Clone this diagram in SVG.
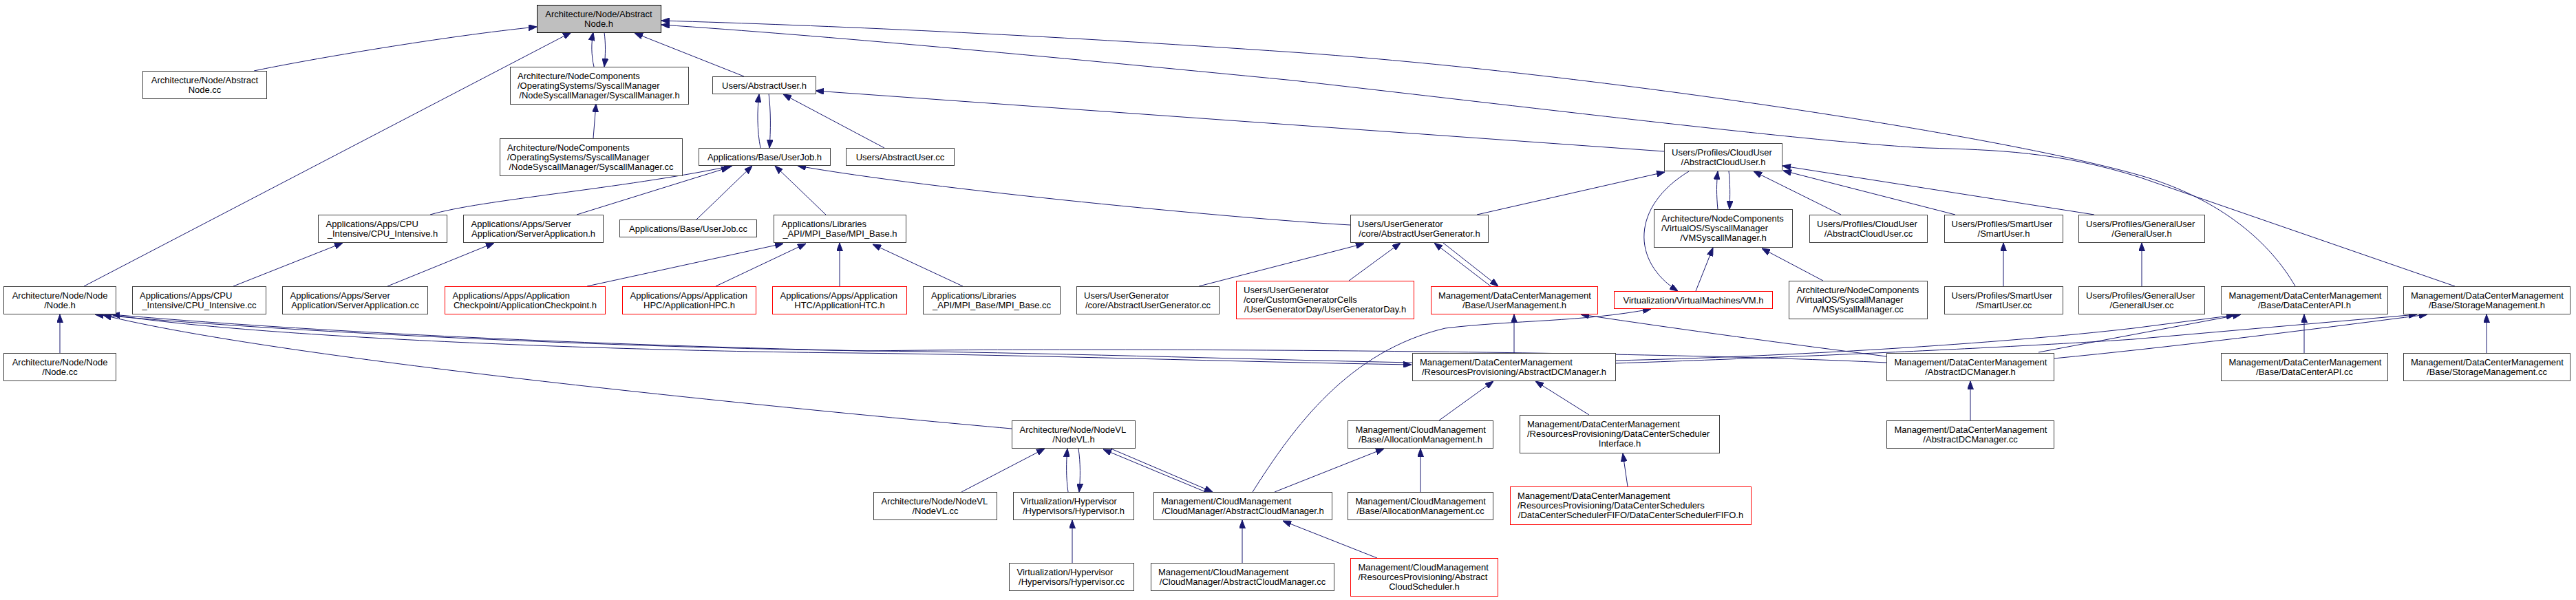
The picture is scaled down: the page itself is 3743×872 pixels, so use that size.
<svg xmlns="http://www.w3.org/2000/svg" width="3743" height="872" viewBox="0 0 3743 872">
<style>
.node rect{fill:#fff;stroke:#404040;stroke-width:1}
.node.root rect{fill:#bfbfbf;stroke:#000}
.node.trunc rect{stroke:#ff0000}
text{font-family:"Liberation Sans",Arial,Helvetica,sans-serif;font-size:13px;fill:#000}
.m{text-anchor:middle}
.edges path{fill:none;stroke:#191970;stroke-width:1;marker-end:url(#a)}
</style>
<defs>
<marker id="a" markerUnits="userSpaceOnUse" markerWidth="12" markerHeight="9" viewBox="0 0 12 9" refX="12" refY="4.5" orient="auto"><path d="M0,0 L12,4.5 L0,9z" fill="#191970" stroke="#191970" stroke-width="1"/></marker>
</defs>
<rect width="3743" height="872" fill="#fff"/>
<g class="edges">
<path d="M369,103 C450,86 650,52 780,39"/>
<path d="M122,416 L830,47"/>
<path d="M863,97 C859,80 859,62 862,47"/>
<path d="M878,47 C880,62 880,80 878,97"/>
<path d="M862,201 L866,151"/>
<path d="M1081,111 L922,48"/>
<path d="M3335,416 C3300,355 3230,290 3110,255 C2900,195 2300,105 1880,76 C1500,50 1200,37 961,30"/>
<path d="M3567,416 L3110,258 C2990,220 2900,218 2800,215 C2650,208 2300,165 1880,117 C1500,80 1200,52 961,36"/>
<path d="M1105,215 C1100,190 1100,160 1103,137"/>
<path d="M1117,136 C1120,160 1120,190 1118,215"/>
<path d="M1285,215 L1138,137"/>
<path d="M2418,220 L1185,132"/>
<path d="M625,312 C700,290 900,275 1064,241"/>
<path d="M838,312 L1060,243"/>
<path d="M1012,319 L1093,241"/>
<path d="M1200,312 L1126,241"/>
<path d="M1962,327 C1800,318 1350,275 1159,241"/>
<path d="M853,416 L1138,354"/>
<path d="M1040,416 L1171,354"/>
<path d="M1220,416 L1220,353"/>
<path d="M1399,416 L1268,355"/>
<path d="M339,416 L498,353"/>
<path d="M563,416 L718,353"/>
<path d="M87,513 L87,457"/>
<path d="M1470,623 C1100,590 400,520 150,458"/>
<path d="M2741,527 C2400,510 1600,505 1260,510 C800,500 400,478 162,457"/>
<path d="M2052,527 C1800,522 1500,512 1260,510 C900,505 400,482 138,457"/>
<path d="M172,459 C400,492 900,510 1240,513 C1500,516 1800,526 2051,530"/>
<path d="M2741,518 C2600,500 2450,480 2297,457"/>
<path d="M2200,513 L2200,457"/>
<path d="M2347,524 C2600,518 2900,500 3100,477 L3247,458"/>
<path d="M2962,512 L3256,457"/>
<path d="M2347,528 C2700,516 3000,500 3100,493 L3512,457"/>
<path d="M2984,521 C3150,505 3350,480 3527,457"/>
<path d="M2863,611 L2863,554"/>
<path d="M3348,513 L3348,457"/>
<path d="M3613,513 L3613,457"/>
<path d="M2146,312 L2419,250"/>
<path d="M2496,304 C2494,285 2494,265 2496,249"/>
<path d="M2512,249 C2514,265 2514,285 2513,304"/>
<path d="M2454,249 C2370,300 2370,380 2438,423"/>
<path d="M2464,423 L2489,360"/>
<path d="M2649,408 L2560,361"/>
<path d="M2675,312 L2548,249"/>
<path d="M2841,312 L2591,248"/>
<path d="M3043,312 L2590,241"/>
<path d="M2911,416 L2911,353"/>
<path d="M3112,416 L3112,353"/>
<path d="M1960,408 L2035,353"/>
<path d="M1742,416 L1982,354"/>
<path d="M2166,416 L2084,353"/>
<path d="M2097,353 L2177,416"/>
<path d="M1820,715 C1880,620 1960,510 2100,477 C2200,465 2300,468 2399,449"/>
<path d="M2091,611 L2170,554"/>
<path d="M2309,603 L2231,554"/>
<path d="M1852,715 L2011,652"/>
<path d="M2064,715 L2064,652"/>
<path d="M2365,707 L2358,659"/>
<path d="M2001,811 L1864,757"/>
<path d="M1397,715 L1518,652"/>
<path d="M1552,715 C1549,695 1549,672 1551,652"/>
<path d="M1567,652 C1570,672 1570,695 1568,715"/>
<path d="M1752,715 L1603,653"/>
<path d="M1614,652 L1762,715"/>
<path d="M1558,818 L1558,756"/>
<path d="M1805,818 L1805,756"/>
</g>
<g id="n0" class="node root"><rect x="780.5" y="7.5" width="180" height="40"/><text class="m" x="870" y="24.5">Architecture/Node/Abstract</text><text class="m" x="870" y="38.5">Node.h</text></g>
<g id="n1" class="node"><rect x="207.5" y="103.5" width="180" height="40"/><text class="m" x="297.5" y="120.5">Architecture/Node/Abstract</text><text class="m" x="297.5" y="134.5">Node.cc</text></g>
<g id="n2" class="node"><rect x="741.5" y="97.5" width="259" height="54"/><text x="752" y="114.5">Architecture/NodeComponents</text><text x="752" y="128.5">/OperatingSystems/SyscallManager</text><text class="m" x="871" y="143">/NodeSyscallManager/SyscallManager.h</text></g>
<g id="n3" class="node"><rect x="726.5" y="201.5" width="265" height="54"/><text x="737" y="218.5">Architecture/NodeComponents</text><text x="737" y="232.5">/OperatingSystems/SyscallManager</text><text class="m" x="859" y="247">/NodeSyscallManager/SyscallManager.cc</text></g>
<g id="n4" class="node"><rect x="1035.5" y="111.5" width="150" height="25"/><text class="m" x="1110.5" y="128.5">Users/AbstractUser.h</text></g>
<g id="n5" class="node"><rect x="1015.5" y="215.5" width="191" height="25"/><text class="m" x="1111" y="232.5">Applications/Base/UserJob.h</text></g>
<g id="n6" class="node"><rect x="1229.5" y="215.5" width="157" height="25"/><text class="m" x="1308" y="232.5">Users/AbstractUser.cc</text></g>
<g id="n7" class="node"><rect x="462.5" y="312.5" width="187" height="40"/><text x="473.5" y="329.5">Applications/Apps/CPU</text><text class="m" x="556" y="343.5">_Intensive/CPU_Intensive.h</text></g>
<g id="n8" class="node"><rect x="673.5" y="312.5" width="203" height="40"/><text x="684.5" y="329.5">Applications/Apps/Server</text><text class="m" x="775" y="343.5">Application/ServerApplication.h</text></g>
<g id="n9" class="node"><rect x="900.5" y="319.5" width="199" height="25"/><text class="m" x="1000" y="336.5">Applications/Base/UserJob.cc</text></g>
<g id="n10" class="node"><rect x="1124.5" y="312.5" width="192" height="40"/><text x="1135.5" y="329.5">Applications/Libraries</text><text class="m" x="1220.5" y="343.5">_API/MPI_Base/MPI_Base.h</text></g>
<g id="n11" class="node"><rect x="5.5" y="416.5" width="163" height="40"/><text class="m" x="87" y="433.5">Architecture/Node/Node</text><text class="m" x="87" y="447.5">/Node.h</text></g>
<g id="n12" class="node"><rect x="192.5" y="416.5" width="194" height="40"/><text x="203" y="433.5">Applications/Apps/CPU</text><text class="m" x="289.5" y="447.5">_Intensive/CPU_Intensive.cc</text></g>
<g id="n13" class="node"><rect x="410.5" y="416.5" width="211" height="40"/><text x="421.5" y="433.5">Applications/Apps/Server</text><text class="m" x="516" y="447.5">Application/ServerApplication.cc</text></g>
<g id="n14" class="node trunc"><rect x="646.5" y="416.5" width="233" height="40"/><text x="657.5" y="433.5">Applications/Apps/Application</text><text class="m" x="763" y="447.5">Checkpoint/ApplicationCheckpoint.h</text></g>
<g id="n15" class="node trunc"><rect x="904.5" y="416.5" width="194" height="40"/><text x="915.5" y="433.5">Applications/Apps/Application</text><text class="m" x="1001.5" y="447.5">HPC/ApplicationHPC.h</text></g>
<g id="n16" class="node trunc"><rect x="1122.5" y="416.5" width="195" height="40"/><text x="1133.5" y="433.5">Applications/Apps/Application</text><text class="m" x="1220" y="447.5">HTC/ApplicationHTC.h</text></g>
<g id="n17" class="node"><rect x="1341.5" y="416.5" width="199" height="40"/><text x="1353" y="433.5">Applications/Libraries</text><text class="m" x="1441" y="447.5">_API/MPI_Base/MPI_Base.cc</text></g>
<g id="n18" class="node"><rect x="1564.5" y="416.5" width="207" height="40"/><text x="1575" y="433.5">Users/UserGenerator</text><text class="m" x="1668" y="447.5">/core/AbstractUserGenerator.cc</text></g>
<g id="n19" class="node trunc"><rect x="1796.5" y="408.5" width="258" height="55"/><text x="1807" y="425.5">Users/UserGenerator</text><text x="1807" y="439.5">/core/CustomGeneratorCells</text><text class="m" x="1925.5" y="454">/UserGeneratorDay/UserGeneratorDay.h</text></g>
<g id="n20" class="node"><rect x="1962.5" y="312.5" width="200" height="40"/><text x="1973" y="329.5">Users/UserGenerator</text><text class="m" x="2062.5" y="343.5">/core/AbstractUserGenerator.h</text></g>
<g id="n21" class="node trunc"><rect x="2079.5" y="416.5" width="242" height="40"/><text x="2090" y="433.5">Management/DataCenterManagement</text><text class="m" x="2200.5" y="447.5">/Base/UserManagement.h</text></g>
<g id="n22" class="node"><rect x="2418.5" y="208.5" width="171" height="40"/><text x="2429" y="225.5">Users/Profiles/CloudUser</text><text class="m" x="2504" y="239.5">/AbstractCloudUser.h</text></g>
<g id="n23" class="node"><rect x="2403.5" y="304.5" width="201" height="55"/><text x="2414" y="321.5">Architecture/NodeComponents</text><text x="2414" y="335.5">/VirtualOS/SyscallManager</text><text class="m" x="2504" y="350">/VMSyscallManager.h</text></g>
<g id="n24" class="node trunc"><rect x="2345.5" y="423.5" width="230" height="25"/><text class="m" x="2460.5" y="440.5">Virtualization/VirtualMachines/VM.h</text></g>
<g id="n25" class="node"><rect x="2629.5" y="312.5" width="171" height="40"/><text x="2640" y="329.5">Users/Profiles/CloudUser</text><text class="m" x="2715" y="343.5">/AbstractCloudUser.cc</text></g>
<g id="n26" class="node"><rect x="2825.5" y="312.5" width="172" height="40"/><text x="2835.5" y="329.5">Users/Profiles/SmartUser</text><text class="m" x="2911.5" y="343.5">/SmartUser.h</text></g>
<g id="n27" class="node"><rect x="3020.5" y="312.5" width="183" height="40"/><text x="3031" y="329.5">Users/Profiles/GeneralUser</text><text class="m" x="3112" y="343.5">/GeneralUser.h</text></g>
<g id="n28" class="node"><rect x="2599.5" y="408.5" width="201" height="55"/><text x="2610.5" y="425.5">Architecture/NodeComponents</text><text x="2610.5" y="439.5">/VirtualOS/SyscallManager</text><text class="m" x="2700" y="454">/VMSyscallManager.cc</text></g>
<g id="n29" class="node"><rect x="2825.5" y="416.5" width="172" height="40"/><text x="2835.5" y="433.5">Users/Profiles/SmartUser</text><text class="m" x="2911.5" y="447.5">/SmartUser.cc</text></g>
<g id="n30" class="node"><rect x="3020.5" y="416.5" width="183" height="40"/><text x="3031" y="433.5">Users/Profiles/GeneralUser</text><text class="m" x="3112" y="447.5">/GeneralUser.cc</text></g>
<g id="n31" class="node"><rect x="3227.5" y="416.5" width="242" height="40"/><text x="3238.5" y="433.5">Management/DataCenterManagement</text><text class="m" x="3348.5" y="447.5">/Base/DataCenterAPI.h</text></g>
<g id="n32" class="node"><rect x="3492.5" y="416.5" width="242" height="40"/><text x="3503" y="433.5">Management/DataCenterManagement</text><text class="m" x="3613.5" y="447.5">/Base/StorageManagement.h</text></g>
<g id="n33" class="node"><rect x="3227.5" y="513.5" width="242" height="40"/><text x="3238.5" y="530.5">Management/DataCenterManagement</text><text class="m" x="3348.5" y="544.5">/Base/DataCenterAPI.cc</text></g>
<g id="n34" class="node"><rect x="3492.5" y="513.5" width="242" height="40"/><text x="3503" y="530.5">Management/DataCenterManagement</text><text class="m" x="3613.5" y="544.5">/Base/StorageManagement.cc</text></g>
<g id="n35" class="node"><rect x="5.5" y="513.5" width="163" height="40"/><text class="m" x="87" y="530.5">Architecture/Node/Node</text><text class="m" x="87" y="544.5">/Node.cc</text></g>
<g id="n36" class="node"><rect x="2741.5" y="513.5" width="243" height="40"/><text x="2752.5" y="530.5">Management/DataCenterManagement</text><text class="m" x="2863" y="544.5">/AbstractDCManager.h</text></g>
<g id="n37" class="node"><rect x="2741.5" y="611.5" width="243" height="40"/><text x="2752.5" y="628.5">Management/DataCenterManagement</text><text class="m" x="2863" y="642.5">/AbstractDCManager.cc</text></g>
<g id="n38" class="node"><rect x="2052.5" y="513.5" width="295" height="40"/><text x="2063" y="530.5">Management/DataCenterManagement</text><text class="m" x="2200" y="544.5">/ResourcesProvisioning/AbstractDCManager.h</text></g>
<g id="n39" class="node"><rect x="1958.5" y="611.5" width="211" height="40"/><text x="1969.5" y="628.5">Management/CloudManagement</text><text class="m" x="2064" y="642.5">/Base/AllocationManagement.h</text></g>
<g id="n40" class="node"><rect x="2208.5" y="603.5" width="290" height="55"/><text x="2219" y="620.5">Management/DataCenterManagement</text><text x="2219" y="634.5">/ResourcesProvisioning/DataCenterScheduler</text><text class="m" x="2353.5" y="649">Interface.h</text></g>
<g id="n41" class="node"><rect x="1958.5" y="715.5" width="211" height="40"/><text x="1969.5" y="732.5">Management/CloudManagement</text><text class="m" x="2064" y="746.5">/Base/AllocationManagement.cc</text></g>
<g id="n42" class="node trunc"><rect x="2194.5" y="707.5" width="350" height="55"/><text x="2205" y="724.5">Management/DataCenterManagement</text><text x="2205" y="738.5">/ResourcesProvisioning/DataCenterSchedulers</text><text class="m" x="2369.5" y="753">/DataCenterSchedulerFIFO/DataCenterSchedulerFIFO.h</text></g>
<g id="n43" class="node trunc"><rect x="1962.5" y="811.5" width="214" height="55"/><text x="1973.5" y="828.5">Management/CloudManagement</text><text x="1973.5" y="842.5">/ResourcesProvisioning/Abstract</text><text class="m" x="2069.5" y="857">CloudScheduler.h</text></g>
<g id="n44" class="node"><rect x="1470.5" y="611.5" width="179" height="40"/><text x="1481.5" y="628.5">Architecture/Node/NodeVL</text><text class="m" x="1560" y="642.5">/NodeVL.h</text></g>
<g id="n45" class="node"><rect x="1269.5" y="715.5" width="179" height="40"/><text x="1280.5" y="732.5">Architecture/Node/NodeVL</text><text class="m" x="1359" y="746.5">/NodeVL.cc</text></g>
<g id="n46" class="node"><rect x="1472.5" y="715.5" width="175" height="40"/><text x="1483" y="732.5">Virtualization/Hypervisor</text><text class="m" x="1560" y="746.5">/Hypervisors/Hypervisor.h</text></g>
<g id="n47" class="node"><rect x="1676.5" y="715.5" width="259" height="40"/><text x="1687" y="732.5">Management/CloudManagement</text><text class="m" x="1806" y="746.5">/CloudManager/AbstractCloudManager.h</text></g>
<g id="n48" class="node"><rect x="1466.5" y="818.5" width="181" height="40"/><text x="1477.5" y="835.5">Virtualization/Hypervisor</text><text class="m" x="1557" y="849.5">/Hypervisors/Hypervisor.cc</text></g>
<g id="n49" class="node"><rect x="1672.5" y="818.5" width="266" height="40"/><text x="1683" y="835.5">Management/CloudManagement</text><text class="m" x="1805.5" y="849.5">/CloudManager/AbstractCloudManager.cc</text></g>
</svg>
